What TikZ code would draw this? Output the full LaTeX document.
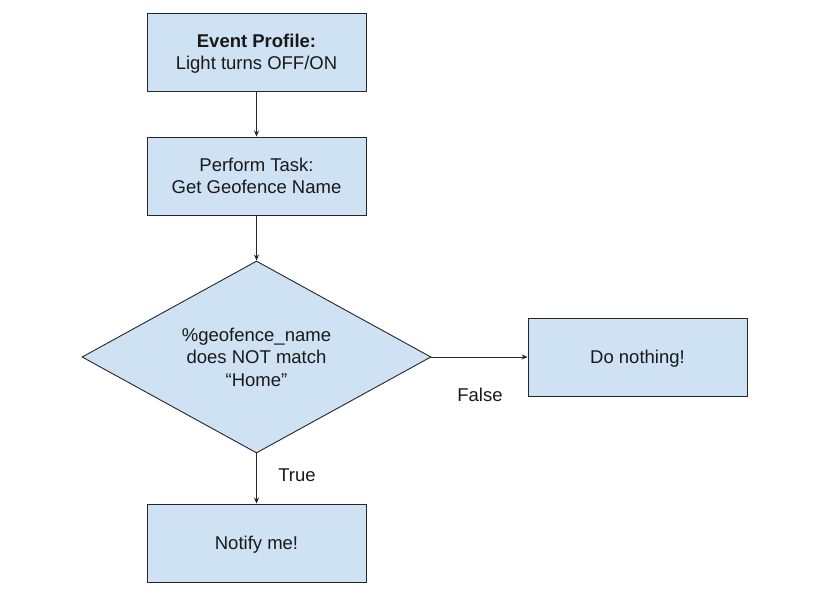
\documentclass[tikz,border=0pt]{standalone}
\usepackage{fontspec}
\setmainfont{Liberation Sans}
\usetikzlibrary{shapes.geometric,arrows.meta}
\begin{document}
\begin{tikzpicture}[x=1pt,y=-1pt,
  every node/.style={font=\fontsize{18.5}{22.5}\selectfont, text=black!90},
  procbox/.style={draw=black!85, line width=0.9pt, fill=boxblue, minimum width=219pt, minimum height=78pt, inner sep=0pt, align=center, text depth=0pt},
  decision/.style={draw=black!85, line width=0.9pt, fill=boxblue, diamond, aspect=1.82, minimum width=349pt, minimum height=192pt, inner sep=0pt, align=center},
  flow/.style={draw=black!85, line width=0.8pt, -{Stealth[length=6pt,width=5pt]}},
  lbl/.style={inner sep=0pt}
]
\definecolor{boxblue}{HTML}{CFE2F3}
\useasboundingbox (0,0) rectangle (830,604);
\fill[white] (0,0) rectangle (830,604);
\node[procbox] (ev) at (256.5,52) {\textbf{Event Profile:}\\Light turns OFF/ON};
\node[procbox] (task) at (256.5,176) {Perform Task:\\Get Geofence Name};
\node[decision] (dec) at (256.5,357) {\%geofence\_name\\does NOT match\\“Home”};
\node[procbox] (nothing) at (637.5,357) {Do nothing!};
\node[procbox] (notify) at (256.5,543) {Notify me!};
\draw[flow] (ev) -- (task);
\draw[flow] (task) -- (dec);
\draw[flow] (dec.east) -- (nothing.west);
\draw[flow] (dec.south) -- (notify.north);
\node[lbl] (false) at (480,395) {False};
\node[lbl] (true) at (297,475) {True};
\end{tikzpicture}
\end{document}
